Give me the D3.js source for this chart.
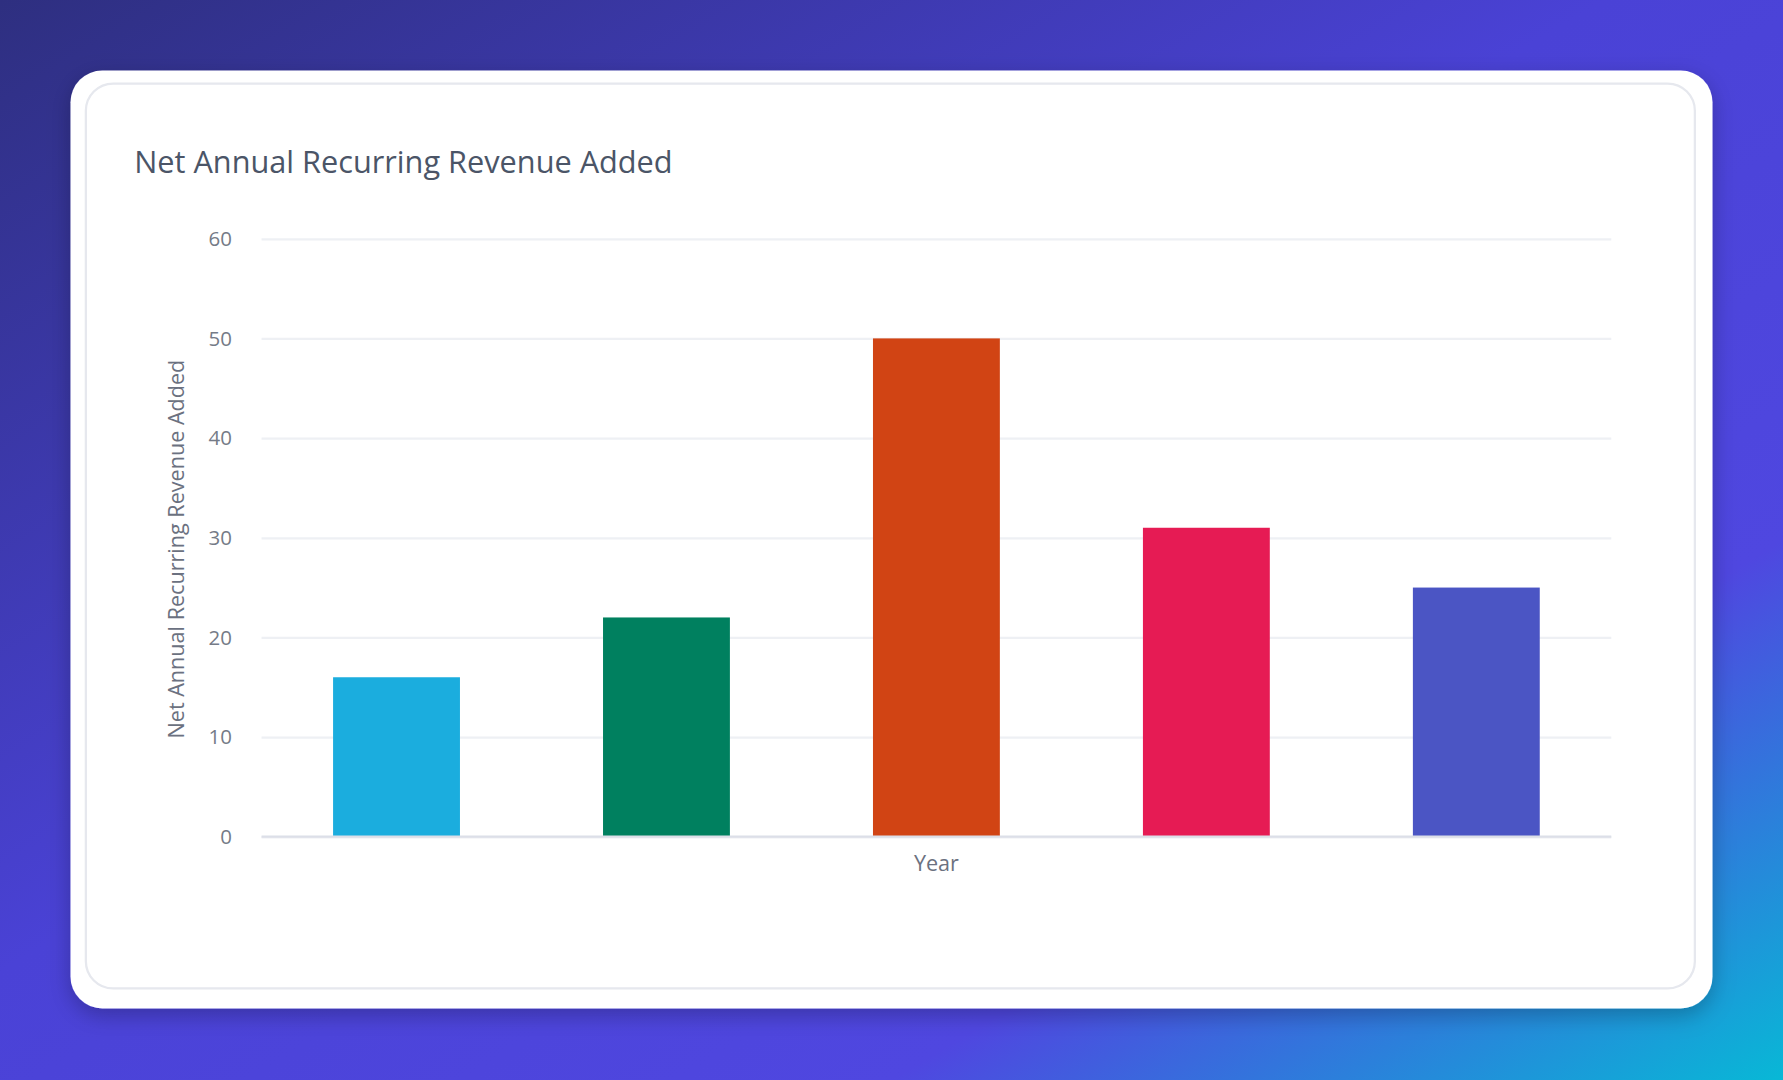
<!DOCTYPE html>
<html>
<head>
<meta charset="utf-8">
<script src="https://cdn.jsdelivr.net/npm/d3@7"></script>
<style>
  html, body { margin: 0; padding: 0; overflow: hidden; }
  svg { display: block; font-family: "Open Sans", "Noto Sans", sans-serif; }
</style>
</head>
<body>
<svg id="chart"></svg>
<script>
const categories = ["A", "B", "C", "D", "E"];
const values = [16, 22, 50, 31, 25];
const barColors = ["#1badde", "#00805f", "#d14414", "#e61b54", "#4b55c4"];
const yTicks = [0, 10, 20, 30, 40, 50, 60];

// drawn in a 1568x950 coordinate space, stretched to the window
const W = 1568, H = 950;
const svg = d3.select("#chart")
  .attr("width", 1783).attr("height", 1080)
  .attr("viewBox", [0, 0, W, H])
  .attr("preserveAspectRatio", "none");

const defs = svg.append("defs");
const bg = defs.append("linearGradient").attr("id", "bg")
  .attr("x1", "0").attr("y1", "0").attr("x2", "1").attr("y2", "1");
bg.append("stop").attr("offset", "0%").attr("stop-color", "#2e2f80");
bg.append("stop").attr("offset", "45%").attr("stop-color", "#4a42d6");
bg.append("stop").attr("offset", "75%").attr("stop-color", "#4f47e0");
bg.append("stop").attr("offset", "100%").attr("stop-color", "#08b8d6");
svg.append("rect").attr("width", W).attr("height", H).attr("fill", "url(#bg)");

const shadow = defs.append("filter").attr("id", "shadow")
  .attr("x", "-10%").attr("y", "-10%").attr("width", "120%").attr("height", "120%");
shadow.append("feDropShadow").attr("dx", 0).attr("dy", 6).attr("stdDeviation", 10)
  .attr("flood-color", "#000").attr("flood-opacity", 0.25);

svg.append("rect").attr("x", 62).attr("y", 62).attr("width", 1444).attr("height", 825)
  .attr("rx", 28).attr("fill", "#fff").attr("filter", "url(#shadow)");
svg.append("rect").attr("x", 75.5).attr("y", 73.5).attr("width", 1415).attr("height", 796)
  .attr("rx", 24).attr("fill", "none").attr("stroke", "#e6e8ee").attr("stroke-width", 2);

svg.append("text").attr("x", 118).attr("y", 152)
  .attr("font-size", 27).attr("fill", "#4b5567")
  .text("Net Annual Recurring Revenue Added");

const margin = { left: 230, right: 1417, top: 210, bottom: 736 };
const x = d3.scaleBand().domain(categories)
  .range([margin.left, margin.right]).paddingInner(0.53).paddingOuter(0.265);
const y = d3.scaleLinear().domain([0, 60]).range([margin.bottom, margin.top]);

const gY = svg.append("g").attr("transform", `translate(${margin.left},0)`)
  .call(d3.axisLeft(y).tickValues(yTicks).tickSize(-(margin.right - margin.left)).tickPadding(26));
gY.select(".domain").remove();
gY.selectAll(".tick line").attr("stroke", "#eef0f4").attr("stroke-width", 2);
gY.selectAll(".tick text").attr("font-size", 18).attr("fill", "#757b87")
  .attr("font-family", "'Open Sans', sans-serif");

svg.append("g").selectAll("rect").data(categories).join("rect")
  .attr("x", d => x(d)).attr("width", x.bandwidth())
  .attr("y", (d, i) => y(values[i])).attr("height", (d, i) => y(0) - y(values[i]))
  .attr("fill", (d, i) => barColors[i]);

svg.append("line").attr("x1", margin.left).attr("x2", margin.right)
  .attr("y1", y(0)).attr("y2", y(0)).attr("stroke", "#dcdfe8").attr("stroke-width", 2);

svg.append("text").attr("x", (margin.left + margin.right) / 2).attr("y", 766)
  .attr("text-anchor", "middle").attr("font-size", 19).attr("fill", "#6b7180").text("Year");

svg.append("text").attr("transform", `translate(162,${(margin.top + margin.bottom) / 2 + 10}) rotate(-90)`)
  .attr("text-anchor", "middle").attr("font-size", 19).attr("fill", "#6b7180")
  .text("Net Annual Recurring Revenue Added");
</script>
</body>
</html>
